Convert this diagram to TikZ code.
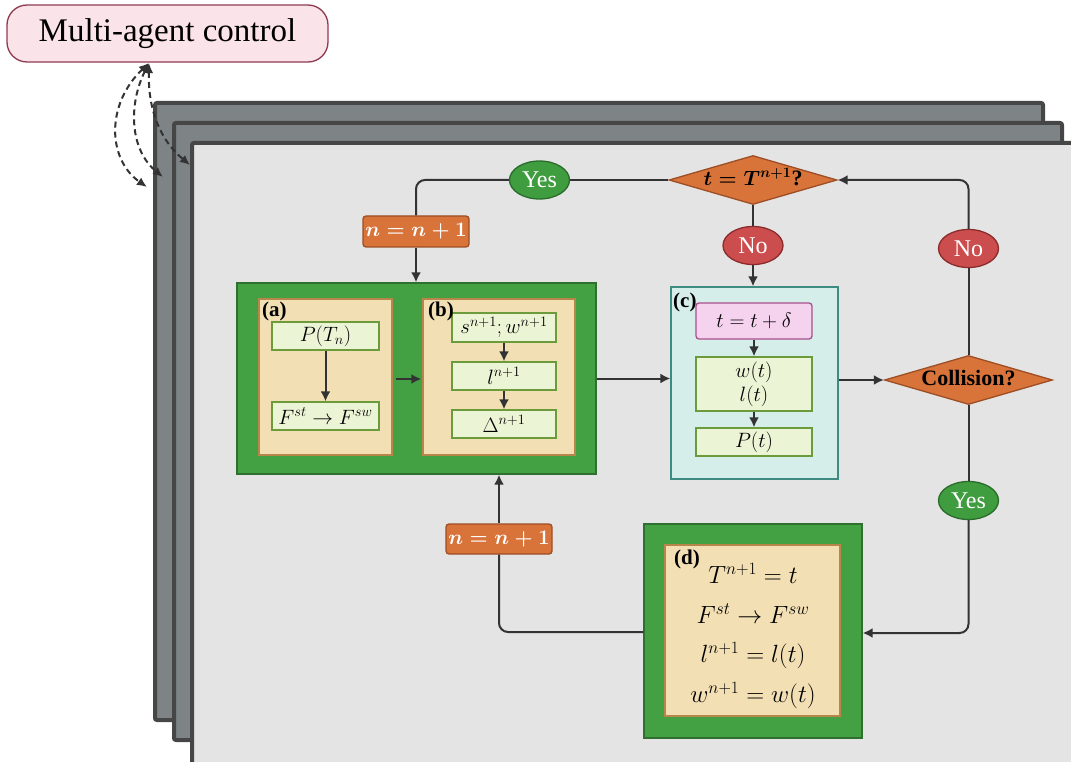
\documentclass[tikz,border=0pt]{standalone}
\usepackage{amsmath}
\usepackage{fontspec}
\setmainfont{Liberation Serif}
\usetikzlibrary{shapes.geometric,arrows.meta,calc}
\definecolor{framegray}{HTML}{7E8386}
\definecolor{frameb}{HTML}{464646}
\definecolor{frontf}{HTML}{E4E4E4}
\definecolor{greenf}{HTML}{43A043}
\definecolor{greenb}{HTML}{2F6F2F}
\definecolor{wheatf}{HTML}{F2DFB4}
\definecolor{wheatb}{HTML}{B8864A}
\definecolor{lgf}{HTML}{EBF5D5}
\definecolor{lgb}{HTML}{6B9B3A}
\definecolor{tealf}{HTML}{D5EEEA}
\definecolor{tealb}{HTML}{3E8B82}
\definecolor{pinkf}{HTML}{F5D2EE}
\definecolor{pinkb}{HTML}{A84F8C}
\definecolor{orf}{HTML}{D8733A}
\definecolor{orb}{HTML}{9E4E24}
\definecolor{yesf}{HTML}{3F9C3F}
\definecolor{yesb}{HTML}{2B6B2B}
\definecolor{nof}{HTML}{CC4D4D}
\definecolor{nob}{HTML}{8C2B2B}
\definecolor{macf}{HTML}{FBE3EA}
\definecolor{macb}{HTML}{8E3B52}
\definecolor{linec}{HTML}{333333}
\newcommand{\fsz}[1]{\fontsize{#1}{#1}\selectfont}
\newcommand{\flattext}[1]{\makebox[0pt]{\raisebox{-0.5ex}[0pt][0pt]{#1}}}
\begin{document}
\begin{tikzpicture}[x=1pt,y=-1pt,
  frame/.style={draw=frameb, line width=4pt, fill=framegray, rounded corners=2pt},
  box/.style={rectangle, inner sep=0pt, line width=1.3pt},
  outg/.style={box, draw=greenb, fill=greenf},
  wheat/.style={box, draw=wheatb, fill=wheatf},
  lg/.style={box, draw=lgb, fill=lgf, font=\fsz{22}},
  teal/.style={box, draw=tealb, fill=tealf},
  pinkbox/.style={box, draw=pinkb, fill=pinkf, rounded corners=3pt, font=\fsz{22}},
  orbox/.style={box, draw=orb, fill=orf, rounded corners=3pt, text=white, font={\fsz{22}\boldmath}},
  yesn/.style={ellipse, draw=yesb, fill=yesf, line width=1.3pt, text=white, inner sep=0pt, minimum width=60pt, minimum height=38pt, font=\fsz{24}},
  non/.style={ellipse, draw=nob, fill=nof, line width=1.3pt, text=white, inner sep=0pt, minimum width=60pt, minimum height=38pt, font=\fsz{24}},
  dia/.style={diamond, draw=orb, fill=orf, line width=1.3pt, inner sep=0pt, minimum width=168pt, minimum height=49pt, font={\bfseries\fsz{22}\boldmath}},
  lab/.style={inner sep=0pt, anchor=north west, font={\bfseries\fsz{21}}},
  conn/.style={draw=linec, line width=2pt, rounded corners=9pt},
  arr/.style={conn, -{Latex[length=10pt,width=10pt]}},
  dsh/.style={draw=linec, line width=2pt, dash pattern=on 6pt off 4pt, {Latex[length=10pt,width=9pt]}-{Latex[length=10pt,width=9pt]}}
]
\useasboundingbox (0,0) rectangle (1071,762);
\clip (0,0) rectangle (1071,762);

% stacked frames
\draw[frame] (155,103) rectangle (1043,720);
\draw[frame] (174,123) rectangle (1062,740);
\draw[frame, fill=frontf] (192,143) rectangle (1090,790);

% multi-agent control
\node[box, draw=macb, fill=macf, rounded corners=20pt, minimum width=321pt, minimum height=57pt, font=\fsz{33}] (mac) at (167.5,33.5) {Multi-agent control};
\coordinate (ms) at (149,63);
\coordinate (e1) at (147,187);
\coordinate (e2) at (163,177);
\coordinate (e3) at (190,165);
\draw[dsh] (ms) .. controls (105,105) and (108,160) .. (e1);
\draw[dsh] (ms) .. controls (128,105) and (130,150) .. (e2);
\draw[dsh] (ms) .. controls (148,110) and (160,140) .. (e3);

% top decision
\node[dia] (dT) at (753,180) {\flattext{$t=T^{n+1}$?}};
\node[yesn] (yes1) at (539.5,180) {Yes};
\node[orbox, minimum width=106pt, minimum height=31pt] (nb1) at (416,231.5) {$n=n+1$};
\node[non] (noT) at (753,245.5) {No};

% green block with (a) and (b)
\node[outg, minimum width=359pt, minimum height=191pt] (G) at (416.5,378.5) {};
\node[wheat, minimum width=133pt, minimum height=156pt] (A) at (325.5,377) {};
\node[lg, minimum width=107pt, minimum height=28pt] (pA) at (325.5,336) {$P(T_n)$};
\node[lg, minimum width=107pt, minimum height=28pt] (fA) at (325.5,416) {$F^{st}\to F^{sw}$};
\node[lab] (la) at (262,302) {(a)};
\node[wheat, minimum width=152pt, minimum height=156pt] (B) at (499,377) {};
\node[lg, minimum width=104pt, minimum height=29pt] (sB) at (504,327.5) {$s^{n+1};w^{n+1}$};
\node[lg, minimum width=104pt, minimum height=28pt] (lB) at (504,376) {$l^{n+1}$};
\node[lg, minimum width=104pt, minimum height=28pt] (dB) at (504,424) {$\Delta^{n+1}$};
\node[lab] (lb) at (428,302) {(b)};

% block (c)
\node[teal, minimum width=167pt, minimum height=192pt] (C) at (754.5,383) {};
\node[pinkbox, minimum width=116pt, minimum height=36pt] (tC) at (754,321) {$t=t+\delta$};
\node[lg, minimum width=116pt, minimum height=54pt, align=center, font=\fontsize{22}{24}\selectfont] (wC) at (754,384) {$w(t)$\\$l(t)$};
\node[lg, minimum width=116pt, minimum height=28pt] (pC) at (754,442) {$P(t)$};
\node[lab] (lc) at (673,293) {(c)};

% collision
\node[dia] (col) at (968.5,380) {\flattext{Collision?}};
\node[non] (noR) at (968.5,248.5) {No};
\node[yesn] (yesR) at (968.5,500.5) {Yes};

% block (d)
\node[outg, minimum width=218pt, minimum height=214pt] (D) at (753,631) {};
\node[wheat, minimum width=175pt, minimum height=171pt] (Dw) at (752.5,630.5) {};
\node[inner sep=0pt, align=center, font=\fontsize{25}{39.5}\selectfont] (Dt) at (753,636) {$T^{n+1}=t$\\$F^{st}\to F^{sw}$\\$l^{n+1}=l(t)$\\$w^{n+1}=w(t)$};
\node[lab] (ld) at (674,550) {(d)};
\node[orbox, minimum width=106pt, minimum height=30pt] (nb2) at (499,539) {$n=n+1$};

% connectors
\draw[conn] (dT.west) -- (yes1.east);
\draw[conn] (yes1.west) -| (nb1.north);
\draw[arr] (nb1.south) -- (nb1 |- G.north);
\draw[conn] (dT.south) -- (noT.north);
\draw[arr] (noT.south) -- (noT |- C.north);
\draw[arr] (pA.south) -- (fA.north);
\draw[arr] ($(A.east)+(3,2)$) -- ($(B.west)+(-1,2)$);
\draw[arr] (sB.south) -- (lB.north);
\draw[arr] (lB.south) -- (dB.north);
\draw[arr] (tC.south) -- (wC.north);
\draw[arr] (wC.south) -- (pC.north);
\draw[arr] (G.east) -- (G.east -| C.west);
\draw[arr] (col.west -| C.east) -- (col.west);
\draw[conn] (col.north) -- (noR.south);
\draw[arr] (noR.north) |- (dT.east);
\draw[conn] (col.south) -- (yesR.north);
\draw[arr] (yesR.south) |- ($(D.east)+(0,2)$);
\draw[conn] ($(D.west)+(0,1)$) -| (nb2.south);
\draw[arr] (nb2.north) -- (nb2 |- G.south);
\end{tikzpicture}
\end{document}
